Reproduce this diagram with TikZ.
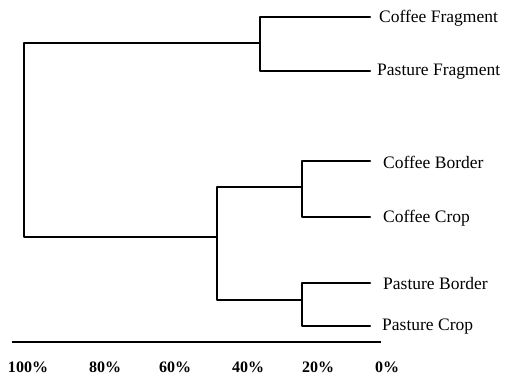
\documentclass[tikz,border=0pt]{standalone}
\usepackage{fontspec}
\setmainfont{Liberation Serif}
\begin{document}
\begin{tikzpicture}[x=1pt,y=-1pt,
  br/.style={line width=2.3pt,line cap=round,line join=round},
  leaf/.style={anchor=west,inner sep=0pt,font=\fontsize{17.5}{20}\selectfont},
  pct/.style={inner sep=0pt,font=\bfseries\fontsize{16}{18}\selectfont}]
\useasboundingbox (0,0) rectangle (510,385);
% joints
\coordinate (root) at (24,43);
\coordinate (rootb) at (24,237);
\coordinate (fr) at (260,43);
\coordinate (frt) at (260,17);
\coordinate (frb) at (260,71);
\coordinate (bc) at (217,237);
\coordinate (bct) at (217,187);
\coordinate (bcb) at (217,300);
\coordinate (cf) at (302,187);
\coordinate (cft) at (302,161);
\coordinate (cfb) at (302,217);
\coordinate (ps) at (302,300);
\coordinate (pst) at (302,283);
\coordinate (psb) at (302,326);
% leaf ends
\coordinate (e1) at (370,17);
\coordinate (e2) at (370,71);
\coordinate (e3) at (370,161);
\coordinate (e4) at (370,217);
\coordinate (e5) at (370,283);
\coordinate (e6) at (370,326);
% labels
\node[leaf] (l1) at (379,18) {Coffee Fragment};
\node[leaf] (l2) at (377,72) {Pasture Fragment};
\node[leaf] (l3) at (383,162) {Coffee Border};
\node[leaf] (l4) at (383,218) {Coffee Crop};
\node[leaf] (l5) at (383,284) {Pasture Border};
\node[leaf] (l6) at (382,327) {Pasture Crop};
% tree
\draw[br] (fr) -- (root) -- (rootb) -- (bc);
\draw[br] (e1) -- (frt) -- (frb) -- (e2);
\draw[br] (cf) -- (bct) -- (bcb) -- (ps);
\draw[br] (e3) -- (cft) -- (cfb) -- (e4);
\draw[br] (e5) -- (pst) -- (psb) -- (e6);
% axis
\coordinate (a0) at (12,342);
\coordinate (a1) at (381,342);
\draw[line width=2.6pt] (a0) -- (a1);
\node[pct] (p100) at (28,367) {100\%};
\node[pct] (p80) at (105,367) {80\%};
\node[pct] (p60) at (175,367) {60\%};
\node[pct] (p40) at (248,367) {40\%};
\node[pct] (p20) at (318,367) {20\%};
\node[pct] (p0) at (387,367) {0\%};
\end{tikzpicture}
\end{document}
